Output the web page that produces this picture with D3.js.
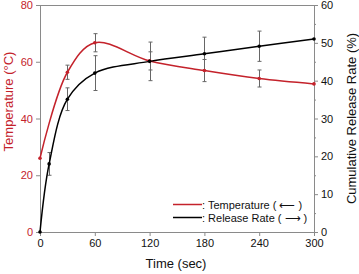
<!DOCTYPE html>
<html><head><meta charset="utf-8">
<script src="https://cdn.jsdelivr.net/npm/d3@7"></script>
<style>body{margin:0;background:#fff}svg{display:block;font-family:"Liberation Sans",Arial,sans-serif}</style>
</head><body><svg id="c" width="359" height="274"></svg>
<script>
const releaseTime = [0, 10, 30, 60, 120, 180, 240, 300];
const releaseVals = [0, 18, 35.1, 42, 45.1, 47.1, 49.1, 51];
const releaseErr  = [0, 3, 3, 4.6, 5.1, 4.4, 4.0, 0];
const tempTime = [0, 30, 60, 120, 180, 240, 300];
const tempVals = [26, 56.3, 66.7, 60.3, 56.9, 54.1, 52.2];
const tempErr  = [0, 2.5, 3.2, 3.2, 3.9, 3.0, 0];
const xTicks = [0, 60, 120, 180, 240, 300];
const leftTicks = [0, 20, 40, 60, 80];
const rightTicks = [0, 10, 20, 30, 40, 50, 60];
const rightMinor = [5, 15, 25, 35, 45, 55];

const RED = "#c4222b", AX = "#8a8a8a";
const svg = d3.select("#c");
const L = 40, R = 314, T = 5, B = 232;
const x = d3.scaleLinear().domain([0, 300]).range([L, R]);
const yL = d3.scaleLinear().domain([0, 80]).range([B, T]);
const yR = d3.scaleLinear().domain([0, 60]).range([B, T]);

// frame top
svg.append("line").attr("x1", L).attr("x2", R).attr("y1", T + 0.5).attr("y2", T + 0.5).attr("stroke", AX);

const gx = svg.append("g").attr("transform", `translate(0,${B})`)
  .call(d3.axisBottom(x).tickValues(xTicks).tickSize(4).tickSizeOuter(0).tickPadding(3));
gx.selectAll("text").attr("fill", "#111").style("font-size", "11px");

const gl = svg.append("g").attr("transform", `translate(${L},0)`)
  .call(d3.axisLeft(yL).tickValues(leftTicks).tickSize(4).tickSizeOuter(0).tickPadding(3));
gl.selectAll("text").attr("fill", RED).style("font-size", "11px");

const gr = svg.append("g").attr("transform", `translate(${R},0)`)
  .call(d3.axisRight(yR).tickValues(rightTicks).tickSize(4).tickSizeOuter(0).tickPadding(3));
gr.selectAll("text").attr("fill", "#111").style("font-size", "11px");
svg.append("g").attr("transform", `translate(${R},0)`)
  .call(d3.axisRight(yR).tickValues(rightMinor).tickSize(2).tickSizeOuter(0).tickFormat(""));

svg.selectAll(".domain, .tick line").attr("stroke", AX);

// error bars
function errBars(tt, vv, ee, y) {
  const g = svg.append("g").attr("stroke", "#666").attr("stroke-width", 1);
  tt.forEach((t, i) => {
    if (!ee[i]) return;
    const cx = Math.round(x(t)) + 0.5, y1 = y(vv[i] + ee[i]), y2 = y(vv[i] - ee[i]);
    g.append("line").attr("x1", cx).attr("x2", cx).attr("y1", y1).attr("y2", y2);
    g.append("line").attr("x1", cx - 2).attr("x2", cx + 2).attr("y1", y1).attr("y2", y1);
    g.append("line").attr("x1", cx - 2).attr("x2", cx + 2).attr("y1", y2).attr("y2", y2);
  });
}
errBars(releaseTime, releaseVals, releaseErr, yR);
errBars(tempTime, tempVals, tempErr, yL);

const lineR = d3.line().x((d, i) => x(releaseTime[i])).y(d => yR(d)).curve(d3.curveCatmullRom);
const lineT = d3.line().x((d, i) => x(tempTime[i])).y(d => yL(d)).curve(d3.curveCatmullRom);
svg.append("path").attr("d", lineT(tempVals)).attr("fill", "none").attr("stroke", RED).attr("stroke-width", 1.5);
svg.append("path").attr("d", lineR(releaseVals)).attr("fill", "none").attr("stroke", "#000").attr("stroke-width", 1.5);

svg.append("g").selectAll("circle").data(tempVals).join("circle")
  .attr("cx", (d, i) => x(tempTime[i])).attr("cy", d => yL(d)).attr("r", 1.8).attr("fill", RED);
svg.append("g").selectAll("circle").data(releaseVals).join("circle")
  .attr("cx", (d, i) => x(releaseTime[i])).attr("cy", d => yR(d)).attr("r", 1.8).attr("fill", "#000");

// titles
svg.append("text").attr("transform", `translate(13,${(T + B) / 2 - 17}) rotate(-90)`)
  .attr("text-anchor", "middle").attr("fill", RED).style("font-size", "13px").text("Temperature (°C)");
svg.append("text").attr("transform", `translate(356,${(T + B) / 2}) rotate(-90)`)
  .attr("text-anchor", "middle").attr("fill", "#111").style("font-size", "13px").text("Cumulative Release Rate (%)");
svg.append("text").attr("x", 176).attr("y", 268).attr("text-anchor", "middle")
  .attr("fill", "#111").style("font-size", "13px").text("Time (sec)");

// legend
const legend = [
  {label: ": Temperature ( \u27F5 )", color: RED},
  {label: ": Release Rate ( \u27F6 )", color: "#000"}
];
const lg = svg.append("g");
legend.forEach((d, i) => {
  const yy = 204.5 + i * 13;
  lg.append("line").attr("x1", 173).attr("x2", 202).attr("y1", yy).attr("y2", yy)
    .attr("stroke", d.color).attr("stroke-width", 1.5);
  lg.append("text").attr("x", 202).attr("y", yy + 4).attr("fill", "#111")
    .style("font-size", "11px").text(d.label);
});
</script></body></html>
